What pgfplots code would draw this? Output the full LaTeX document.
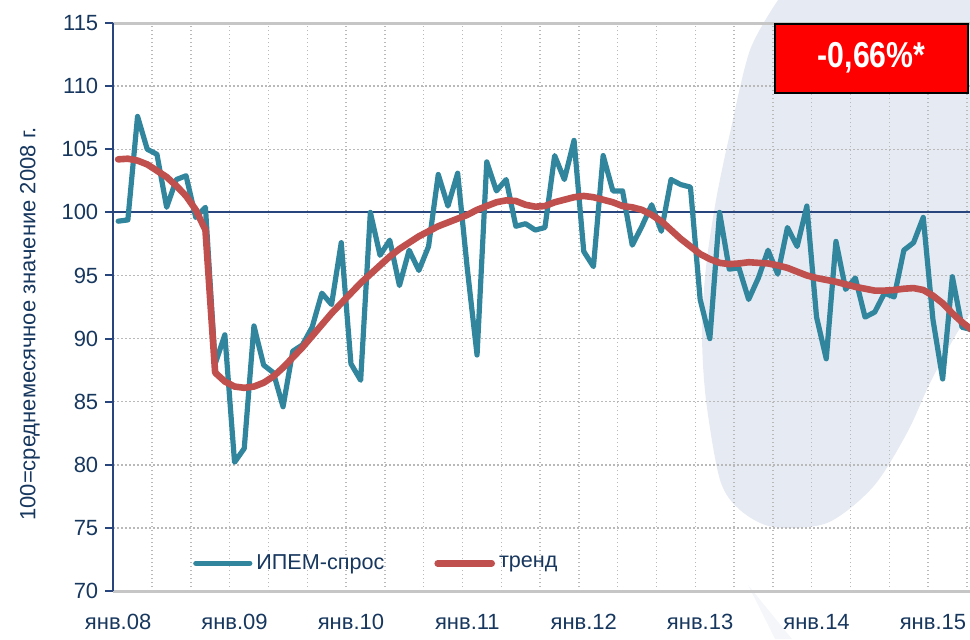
\documentclass[border=0pt]{standalone}
\usepackage{fontspec}
\setmainfont{Liberation Sans}
\usepackage{graphicx}
\usepackage{pgfplots}
\pgfplotsset{compat=1.18}
\definecolor{navy}{RGB}{23,55,94}
\definecolor{axblue}{RGB}{40,70,125}
\definecolor{teal2}{RGB}{49,133,156}
\definecolor{red2}{RGB}{192,80,77}
\definecolor{blobc}{RGB}{230,234,243}
\definecolor{gridgray}{RGB}{185,185,185}

\pgfplotstableread{
m v
0 99.3
1 99.4
2 107.6
3 105.0
4 104.6
5 100.4
6 102.6
7 102.9
8 99.6
9 100.4
10 88.0
11 90.3
12 80.2
13 81.3
14 91.0
15 87.9
16 87.3
17 84.6
18 89.0
19 89.5
20 90.9
21 93.6
22 92.7
23 97.6
24 88.0
25 86.7
26 100.0
27 96.6
28 97.8
29 94.2
30 97.0
31 95.4
32 97.3
33 103.0
34 100.5
35 103.1
36 95.5
37 88.7
38 104.0
39 101.7
40 102.6
41 98.9
42 99.1
43 98.6
44 98.8
45 104.5
46 102.6
47 105.7
48 96.9
49 95.7
50 104.5
51 101.7
52 101.7
53 97.4
54 98.9
55 100.6
56 98.5
57 102.6
58 102.2
59 102.0
60 93.1
61 90.0
62 100.0
63 95.5
64 95.6
65 93.1
66 94.8
67 97.0
68 95.1
69 98.8
70 97.3
71 100.5
72 91.7
73 88.4
74 97.7
75 93.9
76 94.8
77 91.7
78 92.1
79 93.6
80 93.3
81 97.0
82 97.6
83 99.6
84 91.5
85 86.8
86 94.9
87 90.9
88 90.7
}\demand

\pgfplotstableread{
m v
0 104.2
1 104.25
2 104.1
3 103.8
4 103.3
5 102.8
6 102.1
7 101.3
8 100.2
9 98.6
10 87.3
11 86.6
12 86.2
13 86.1
14 86.2
15 86.5
16 87.0
17 87.7
18 88.5
19 89.3
20 90.2
21 91.1
22 92.0
23 92.8
24 93.6
25 94.4
26 95.1
27 95.8
28 96.5
29 97.1
30 97.6
31 98.1
32 98.5
33 98.9
34 99.2
35 99.5
36 99.8
37 100.2
38 100.5
39 100.8
40 100.95
41 100.9
42 100.6
43 100.45
44 100.5
45 100.8
46 101.0
47 101.2
48 101.3
49 101.2
50 101.0
51 100.8
52 100.5
53 100.4
54 100.2
55 99.8
56 99.3
57 98.6
58 97.9
59 97.3
60 96.7
61 96.3
62 96.0
63 95.9
64 95.95
65 96.05
66 96.0
67 95.95
68 95.8
69 95.6
70 95.3
71 95.0
72 94.8
73 94.65
74 94.5
75 94.3
76 94.1
77 93.95
78 93.8
79 93.8
80 93.85
81 93.95
82 94.0
83 93.85
84 93.4
85 92.8
86 92.0
87 91.3
88 90.7
}\trend

\begin{document}
\begin{tikzpicture}
\useasboundingbox (-56.65pt,-24pt) rectangle (428.35pt,295.5pt);
\clip (-56.65pt,-24pt) rectangle (428.35pt,295.5pt);
\begin{scope}[x=0.5pt,y=-0.5pt,shift={(-56.65pt,295.5pt)}]
  \fill[blobc] (778,-10) -- plot[smooth] coordinates {(778,0) (750,50) (730,133) (716,200) (706,267) (702,333) (706,400) (720,480) (740,510) (773,527) (827,523) (873,487) (907,433) (930,383) (957,333) (980,300)} -- (985,-10) -- cycle;
  \fill[blobc!45] (748,585) -- (775,639) -- (792,639) -- cycle;
\end{scope}
\begin{axis}[
  width=428.35pt, height=284pt, scale only axis,
  clip=false,
  xmin=-0.5, xmax=87.82, ymin=70, ymax=115,
  axis line style={draw=none},
  ytick={70,75,80,85,90,95,100,105,110,115},
  xtick={0,12,24,36,48,60,72,84},
  xticklabels={янв.08,янв.09,янв.10,янв.11,янв.12,янв.13,янв.14,янв.15},
  xmajorgrids=false, ymajorgrids=true,
  grid style={gridgray, line width=0.7pt, dash pattern=on 0.7pt off 1.3pt},
  x tick style={draw=none},
  ytick pos=left, xtick pos=bottom,
  tick align=outside,
  y tick style={axblue, line width=1pt},
  major tick length=4pt,
  tick label style={font=\fontsize{11}{13}\selectfont, text=navy},
  xticklabel style={yshift=-4pt},
  /pgf/number format/assume math mode=true,
  ylabel={100=среднемесячное значение 2008 г.},
  ylabel style={at={(axis description cs:-0.0972,0.470)}, anchor=center, font=\fontsize{11}{13}\selectfont, text=navy},
  legend style={at={(axis cs:7.7,72.2)}, anchor=west, draw=none, fill=none, inner sep=0pt,
    legend columns=2, font=\fontsize{10.8}{12}\selectfont, text=navy,
    /tikz/every even column/.append style={column sep=23pt}},
  legend image code/.code={\draw[#1, line cap=round] (0pt,0pt) -- (27pt,0pt);},
  legend cell align=left,
]
\pgfplotsinvokeforeach{3.5,7.5,...,87.5}{\draw[gridgray, line width=0.7pt, dash pattern=on 0.7pt off 1.3pt] (axis cs:#1,70) -- (axis cs:#1,115);}
\draw[gray!45, line width=1.5pt] (rel axis cs:0,1) -- (rel axis cs:1,1);
\draw[gray!45, line width=1.5pt] (rel axis cs:0,0) -- (rel axis cs:1,0);
\draw[axblue, line width=1.1pt] (axis cs:-0.5,100) -- (axis cs:87.82,100);
\pgfplotsinvokeforeach{3.5,7.5,...,87.5}{\draw[axblue, line width=1pt] (axis cs:#1,100) ++(0,-3.75pt) -- ++(0,7.5pt);}
\draw[axblue, line width=1.2pt] (rel axis cs:0,0) -- (rel axis cs:0,1);
\addplot[teal2, line width=2.6pt, line join=round, line cap=round] table[x=m,y=v] {\demand};
\addlegendentry{ИПЕМ-спрос}
\addplot[red2, line width=3.3pt, line join=round, line cap=round] table[x=m,y=v] {\trend};
\addlegendentry{тренд}
\end{axis}
\begin{scope}[x=0.5pt,y=-0.5pt,shift={(-56.65pt,295.5pt)}]
  \draw[fill=red, draw=black, line width=1pt] (775,24) rectangle (968,93);
  \node[text=white, font=\bfseries\fontsize{18}{20}\selectfont] at (871.5,58) {\scalebox{0.84}[1]{-0,66\%*}};
\end{scope}
\end{tikzpicture}
\end{document}
